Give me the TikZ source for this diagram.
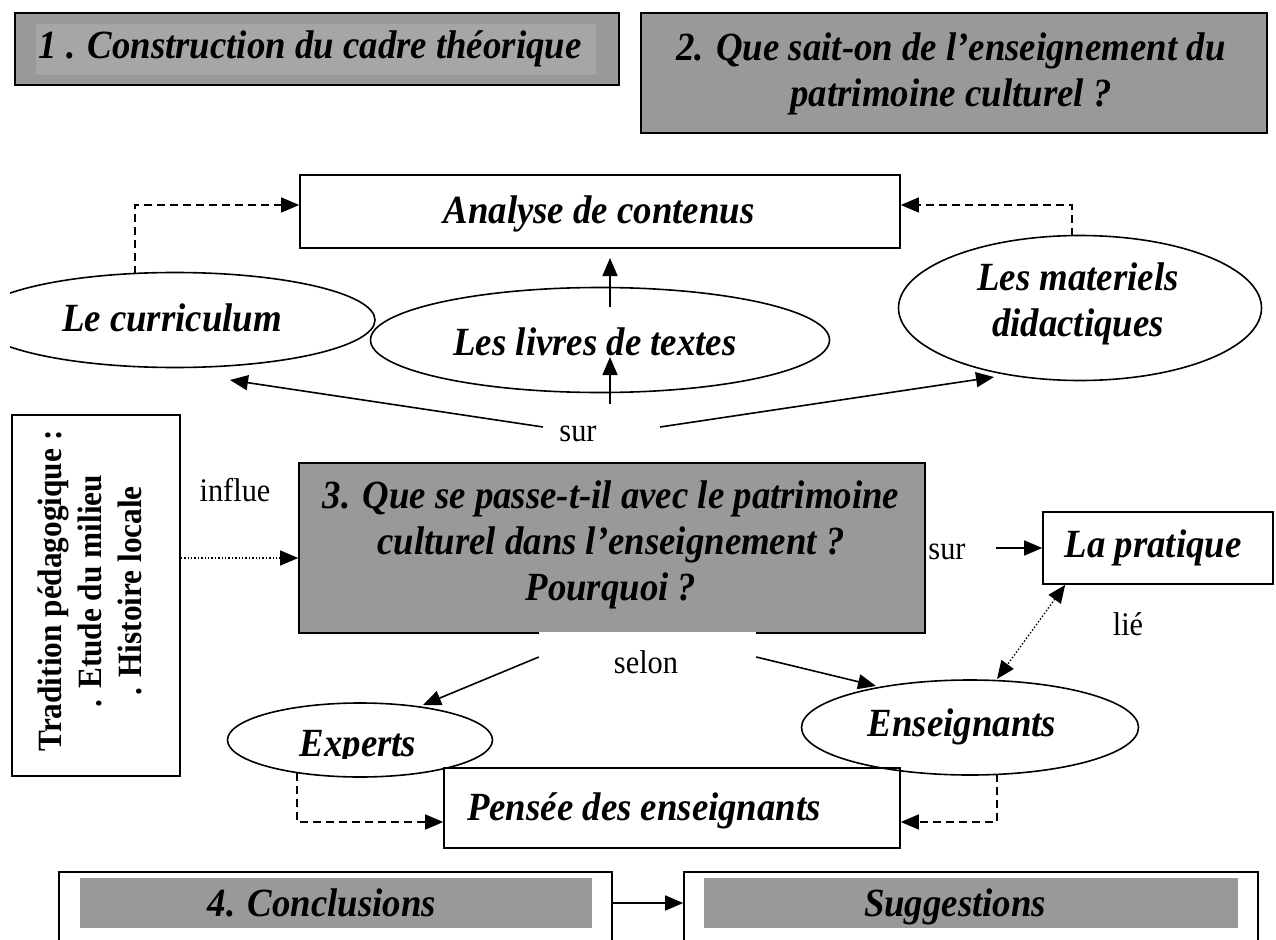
\documentclass[tikz,border=0pt]{standalone}
\usepackage{fontspec}
\setmainfont{Liberation Serif}
\newfontfamily\lblfont[FakeStretch=0.92]{Liberation Serif}
\usetikzlibrary{shapes.geometric,arrows.meta}
\definecolor{boxgray}{HTML}{999999}
\definecolor{lightgray2}{HTML}{A6A6A6}
\tikzset{
  lbl/.style={font=\lblfont\fontsize{40}{46}\selectfont\bfseries\itshape, align=center, inner sep=0pt},
  plain/.style={font=\lblfont\fontsize{33}{40}\selectfont, inner sep=0pt},
  boxline/.style={draw, line width=1.6pt, inner sep=0pt},
  ell/.style={draw, ellipse, line width=1.6pt, inner sep=0pt},
  arr/.style={-{Triangle[length=18pt,width=15pt]}, line width=1.6pt},
  dasharr/.style={-{Triangle[length=18pt,width=15pt]}, line width=1.4pt, dash pattern=on 8pt off 5pt},
  dotarr/.style={-{Triangle[length=18pt,width=15pt]}, line width=1.4pt, dotted},
  dotdbl/.style={{Triangle[length=18pt,width=15pt]}-{Triangle[length=18pt,width=15pt]}, line width=1.4pt, dotted}
}
\begin{document}
\begin{tikzpicture}[x=1pt,y=-1pt]
\useasboundingbox (0,0) rectangle (1276,939);
\fill[white] (0,0) rectangle (1276,939);

% Box 1
\node[boxline, fill=boxgray, minimum width=604pt, minimum height=72pt] (b1) at (317,49) {};
\node[fill=lightgray2, minimum width=560pt, minimum height=51pt, inner sep=0pt] (b1in) at (316,49.5) {};
\node[lbl] (t1) at (310,49) {1 . Construction du cadre théorique};

% Box 2
\node[boxline, fill=boxgray, minimum width=626pt, minimum height=120pt] (b2) at (954,73) {};
\node[lbl] (t2) at (951,74) {2. Que sait-on de l’enseignement du\\patrimoine culturel ?};

% Analyse
\node[boxline, minimum width=600pt, minimum height=73pt] (ana) at (600,211.5) {};
\node[lbl] (tana) at (599,214) {Analyse de contenus};

% Ellipses
\begin{scope}
\clip (10,0) rectangle (1276,939);
\node[ell, minimum width=400pt, minimum height=95pt] (cur) at (175,320) {};
\end{scope}
\node[lbl] (tcur) at (172,318) {Le curriculum};
\node[ell, minimum width=459pt, minimum height=105pt] (liv) at (600,340) {};
\node[lbl] (tliv) at (595,342) {Les livres de textes};
\node[ell, minimum width=363pt, minimum height=145pt] (mat) at (1080,308) {};
\node[lbl] (tmat) at (1078,304) {Les materiels\\didactiques};

% dashed to Analyse
\coordinate (curtop) at (135,274);
\draw[dasharr] (curtop) |- ([yshift=6.5pt]ana.west);
\coordinate (mattop) at (1072,236);
\draw[dasharr] (mattop) |- ([yshift=6.5pt]ana.east);

% sur (top)
\node[plain] (sur1) at (578,434) {sur};
\coordinate (livup) at (610,307);
\coordinate (livtip) at (610,258);
\draw[arr] (livup) -- (livtip);
\coordinate (surtop) at (610,404);
\coordinate (livin) at (610,357);
\draw[arr] (surtop) -- (livin);
\coordinate (surl) at (543,427);
\coordinate (curtip) at (230,380);
\draw[arr] (surl) -- (curtip);
\coordinate (surr) at (660,427);
\coordinate (mattip) at (994,377);
\draw[arr] (surr) -- (mattip);

% Left box
\node[boxline, minimum width=168pt, minimum height=361pt] (lb) at (96,595.5) {};
\node[rotate=90, font=\lblfont\fontsize{34}{40}\selectfont\bfseries, align=center, inner sep=0pt] (tlb) at (90,591) {Tradition pédagogique :\\. Etude du milieu\\. Histoire locale};
\node[plain] (influe) at (235,490) {influe};

% Center box
\node[boxline, fill=boxgray, minimum width=626pt, minimum height=170pt] (cb) at (612,548) {};
\node[lbl] (tcb) at (611,545) {3. Que se passe-t-il avec le patrimoine\\culturel dans l’enseignement ?\\Pourquoi ?};
\coordinate (cbin) at ([yshift=-10pt]cb.west);
\draw[dotarr] (lb.east |- cbin) -- (cbin);

% selon
\node[fill=white, minimum width=217pt, minimum height=60pt, inner sep=0pt] (selonbg) at (647.5,662) {};
\node[plain] (selon) at (646,662) {selon};

% La pratique
\node[boxline, minimum width=230pt, minimum height=72pt] (pra) at (1158,548) {};
\node[lbl] (tpra) at (1153,548) {La pratique};
\node[plain] (sur2) at (947,552) {sur};
\coordinate (sur2r) at (996,548);
\draw[arr] (sur2r) -- (pra.west);

% Enseignants / Experts
\node[ell, minimum width=337pt, minimum height=95pt] (ens) at (970,727.5) {};
\node[lbl] (tens) at (962,727) {Enseignants};
\node[ell, minimum width=265pt, minimum height=74pt] (exp) at (360,740) {};
\begin{scope}
\clip (200,690) rectangle (520,758);
\node[lbl] (texp) at (358,748) {Experts};
\end{scope}
\node[plain] (lie) at (1128,624) {lié};

\coordinate (praend) at ([xshift=23pt]pra.south west);
\coordinate (enstip) at (997,679);
\draw[dotdbl] (praend) -- (enstip);

\coordinate (exptip) at (423,705);
\draw[arr] ([yshift=5pt]selonbg.west) -- (exptip);
\coordinate (enstip2) at (876,686);
\draw[arr] ([yshift=5pt]selonbg.east) -- (enstip2);

% Pensee
\node[boxline, minimum width=456pt, minimum height=80pt] (pen) at (672,808) {};
\node[lbl] (tpen) at (644,811) {Pensée des enseignants};
\coordinate (expb) at (297,773);
\draw[dasharr] (expb) |- ([yshift=-14pt]pen.west);
\coordinate (ensb) at (997,774);
\draw[dasharr] (ensb) |- ([yshift=-14pt]pen.east);

% Bottom boxes
\node[boxline, minimum width=553pt, minimum height=120pt] (con) at (335.5,932) {};
\node[fill=boxgray, minimum width=512pt, minimum height=50pt, inner sep=0pt] (conin) at (336,903) {};
\node[lbl, anchor=base] (tcon) at (322,916) {4. Conclusions};
\node[boxline, minimum width=574pt, minimum height=120pt] (sug) at (971,932) {};
\node[fill=boxgray, minimum width=534pt, minimum height=50pt, inner sep=0pt] (sugin) at (971,903) {};
\node[lbl, anchor=base] (tsug) at (955,916) {Suggestions};
\draw[arr] (con.east |- conin.east) -- (sug.west |- sugin.west);
\end{tikzpicture}
\end{document}
